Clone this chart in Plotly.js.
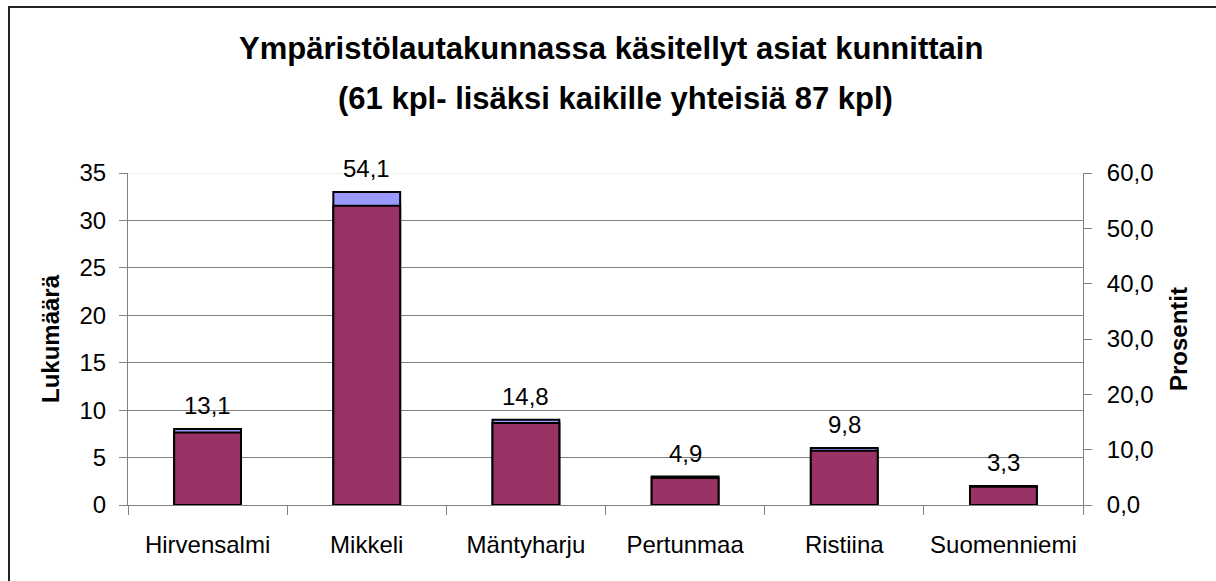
<!DOCTYPE html>
<html>
<head>
<meta charset="utf-8">
<script src="https://cdn.plot.ly/plotly-3.0.1.min.js"></script>
<style>
html,body{margin:0;padding:0;background:#fff;}
#wrap{position:relative;width:1216px;height:581px;overflow:hidden;}
#chart{width:1216px;height:581px;}
#frame{position:absolute;left:8px;top:6px;width:1300px;height:700px;border:2px solid #222;pointer-events:none;}
</style>
</head>
<body>
<div id="wrap">
<div id="chart"></div>
<div id="frame"></div>
</div>
<script>
const municipalities = ["Hirvensalmi", "Mikkeli", "Mäntyharju", "Pertunmaa", "Ristiina", "Suomenniemi"];
const counts = [8, 33, 9, 3, 6, 2];
const percents = [13.1, 54.1, 14.8, 4.9, 9.8, 3.3];
const leftTicks = [0, 5, 10, 15, 20, 25, 30, 35];
const rightTicks = [0, 10, 20, 30, 40, 50, 60];
const titleLine1 = "Ympäristölautakunnassa käsitellyt asiat kunnittain";
const titleLine2 = "(61 kpl- lisäksi kaikille yhteisiä 87 kpl)";

const FONT = "Liberation Sans, Arial, sans-serif";
const pctLabels = percents.map(v => v.toFixed(1).replace('.', ','));

const traces = [
  {
    type: 'bar', name: 'Lukumäärä', x: municipalities, y: counts,
    yaxis: 'y', width: 0.42,
    marker: {color: '#9999FF', line: {color: '#000', width: 2}},
    hoverinfo: 'x+y'
  },
  {
    type: 'bar', name: 'Prosentit', x: municipalities, y: percents,
    yaxis: 'y2', width: 0.42,
    marker: {color: '#993366', line: {color: '#000', width: 2}},
    hoverinfo: 'x+y'
  }
];

const labelAnnotations = municipalities.map((m, i) => ({
  x: m, y: counts[i], xref: 'x', yref: 'y',
  text: pctLabels[i], showarrow: false,
  xanchor: 'center', yanchor: 'bottom', yshift: 8,
  font: {family: FONT, size: 24, color: '#000'}
}));

const layout = {
  width: 1216, height: 581,
  margin: {l: 128, r: 133, t: 173, b: 76, pad: 0},
  paper_bgcolor: '#fff', plot_bgcolor: '#fff',
  showlegend: false,
  barmode: 'overlay',
  separators: ', ',
  font: {family: FONT, color: '#000'},
  title: {
    text: titleLine1,
    font: {family: FONT, size: 31, color: '#000', weight: 'bold'},
    x: 0.506, xanchor: 'center', xref: 'paper',
    y: 1 - 48 / 581, yref: 'container', yanchor: 'middle'
  },
  annotations: [{
    text: titleLine2, showarrow: false,
    xref: 'paper', yref: 'paper', x: 0.51, y: 1 + (173 - 98) / 332,
    xanchor: 'center', yanchor: 'middle',
    font: {family: FONT, size: 31, color: '#000', weight: 'bold'}
  }].concat(labelAnnotations),
  xaxis: {
    type: 'category', tickson: 'boundaries',
    ticks: 'outside', ticklen: 9, tickcolor: '#808080', tickwidth: 1,
    showline: true, linecolor: '#808080', linewidth: 1,
    showgrid: false, zeroline: false,
    tickfont: {family: FONT, size: 24, color: '#000'},
    ticklabelstandoff: 18,
    range: [-0.5, 5.5]
  },
  yaxis: {
    range: [0, 35], tickvals: leftTicks, ticktext: leftTicks.map(String),
    ticks: 'outside', ticklen: 8, tickcolor: '#808080', tickwidth: 1,
    showline: true, linecolor: '#808080', linewidth: 1,
    showgrid: true, gridcolor: '#808080', gridwidth: 1,
    zeroline: false,
    tickfont: {family: FONT, size: 24, color: '#000'},
    ticklabelstandoff: 8,
    title: {text: 'Lukumäärä', font: {family: FONT, size: 24, color: '#000', weight: 'bold'}, standoff: 13}
  },
  yaxis2: {
    overlaying: 'y', side: 'right', anchor: 'x',
    range: [0, 60], tickvals: rightTicks, tickformat: '.1f',
    ticks: 'outside', ticklen: 8, tickcolor: '#808080', tickwidth: 1,
    showline: true, linecolor: '#808080', linewidth: 1,
    showgrid: false, zeroline: false,
    tickfont: {family: FONT, size: 24, color: '#000'},
    ticklabelstandoff: 10,
    title: {text: 'Prosentit', font: {family: FONT, size: 24, color: '#000', weight: 'bold'}, standoff: 17}
  },
  yaxis3: {
    overlaying: 'y', side: 'right', anchor: 'x',
    range: [0, 60], tickvals: rightTicks,
    ticks: 'inside', ticklen: 8, tickcolor: '#808080', tickwidth: 1,
    showticklabels: false, showline: false, showgrid: false, zeroline: false
  },
  shapes: [{
    type: 'line', xref: 'paper', yref: 'y', x0: 0, x1: 1, y0: 35, y1: 35,
    line: {color: '#e4e4e4', width: 1}, layer: 'above'
  }]
};

Plotly.newPlot('chart', traces, layout, {displayModeBar: false, staticPlot: true});
</script>
</body>
</html>
